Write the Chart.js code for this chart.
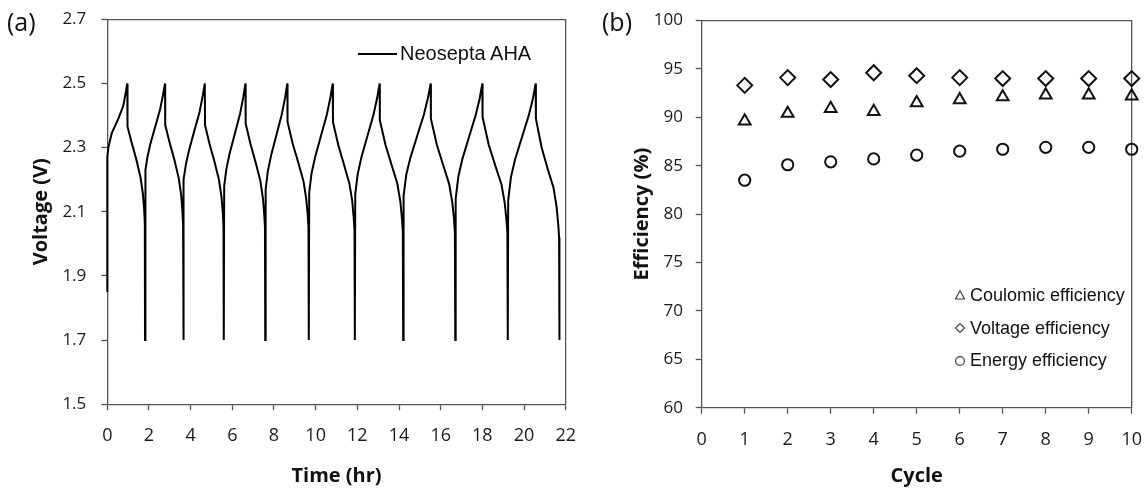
<!DOCTYPE html>
<html>
<head>
<meta charset="utf-8">
<script src="https://cdn.jsdelivr.net/npm/chart.js@4.4.1/dist/chart.umd.min.js"></script>
<style>
  html, body { margin: 0; padding: 0; background: #fff; }
  #wrap { position: relative; width: 1147px; height: 490px; background: #fff; overflow: hidden; }
  .pane { position: absolute; top: 0; height: 490px; }
  .lbl { position: absolute; white-space: nowrap; color: #111; }
  .panel { font-family: "Open Sans", sans-serif; font-size: 25px; line-height: 30px; }
  .leg { font-family: "Liberation Sans", Arial, sans-serif; color: #111; }
</style>
</head>
<body>
<div id="wrap">
  <div class="pane" style="left:0;width:580px;"><canvas id="c1"></canvas></div>
  <div class="pane" style="left:580px;width:567px;"><canvas id="c2"></canvas></div>
  <div class="lbl panel" style="left:7px;top:6px;">(a)</div>
  <div class="lbl panel" style="left:602px;top:6px;">(b)</div>
  <div id="legA"></div>
  <div id="legB"></div>
</div>
<script>
// ---------- Panel (a): charge/discharge voltage ----------
const timeHr = [
  0, 0, 0.05, 0.21, 0.53, 0.77, 0.96,
  0.97, 1.17, 1.385, 1.60, 1.71, 1.77, 1.80, 1.81,
  1.83, 1.924, 2.065, 2.30, 2.535, 2.676, 2.77,
  2.78, 2.99, 3.21, 3.43, 3.544, 3.606, 3.637, 3.65,
  3.67, 3.771, 3.923, 4.175, 4.428, 4.579, 4.68,
  4.69, 4.908, 5.135, 5.363, 5.481, 5.545, 5.576, 5.59,
  5.61, 5.712, 5.865, 6.12, 6.375, 6.528, 6.63,
  6.64, 6.868, 7.105, 7.343, 7.466, 7.533, 7.566, 7.58,
  7.60, 7.704, 7.86, 8.12, 8.38, 8.536, 8.64,
  8.65, 8.898, 9.155, 9.413, 9.546, 9.619, 9.655, 9.67,
  9.69, 9.803, 9.973, 10.255, 10.538, 10.707, 10.82,
  10.83, 11.085, 11.35, 11.615, 11.753, 11.827, 11.864, 11.88,
  11.90, 12.017, 12.193, 12.485, 12.778, 12.953, 13.07,
  13.08, 13.353, 13.635, 13.918, 14.064, 14.144, 14.183, 14.20,
  14.22, 14.35, 14.545, 14.87, 15.195, 15.39, 15.52,
  15.53, 15.815, 16.11, 16.405, 16.558, 16.641, 16.682, 16.70,
  16.72, 16.848, 17.04, 17.36, 17.68, 17.872, 18.0,
  18.01, 18.305, 18.61, 18.915, 19.074, 19.159, 19.202, 19.22,
  19.24, 19.372, 19.57, 19.9, 20.23, 20.428, 20.56,
  20.57, 20.845, 21.13, 21.415, 21.563, 21.643, 21.683, 21.70
];
const voltageV = [
  1.85, 2.27, 2.30, 2.344, 2.39, 2.43, 2.5,
  2.365, 2.315, 2.265, 2.205, 2.155, 2.105, 2.065, 1.7,
  2.23, 2.27, 2.311, 2.365, 2.419, 2.465, 2.5,
  2.37, 2.316, 2.264, 2.204, 2.153, 2.102, 2.062, 1.7,
  2.20, 2.247, 2.292, 2.352, 2.411, 2.461, 2.5,
  2.37, 2.311, 2.258, 2.198, 2.146, 2.094, 2.054, 1.7,
  2.18, 2.232, 2.28, 2.343, 2.406, 2.458, 2.5,
  2.375, 2.312, 2.257, 2.197, 2.143, 2.092, 2.052, 1.7,
  2.17, 2.226, 2.275, 2.34, 2.405, 2.457, 2.5,
  2.38, 2.312, 2.256, 2.196, 2.141, 2.089, 2.049, 1.7,
  2.16, 2.22, 2.27, 2.337, 2.403, 2.456, 2.5,
  2.38, 2.308, 2.249, 2.189, 2.134, 2.081, 2.041, 1.7,
  2.155, 2.217, 2.269, 2.336, 2.403, 2.455, 2.5,
  2.385, 2.308, 2.248, 2.188, 2.132, 2.078, 2.038, 1.7,
  2.15, 2.216, 2.268, 2.336, 2.403, 2.455, 2.5,
  2.39, 2.309, 2.247, 2.187, 2.129, 2.076, 2.036, 1.7,
  2.14, 2.21, 2.264, 2.333, 2.401, 2.453, 2.5,
  2.395, 2.309, 2.246, 2.186, 2.127, 2.073, 2.033, 1.7,
  2.135, 2.208, 2.263, 2.332, 2.401, 2.453, 2.5,
  2.39, 2.30, 2.235, 2.175, 2.115, 2.06, 2.02, 1.7
];
const seriesA = 'Neosepta AHA';
const timeTicks = [0, 2, 4, 6, 8, 10, 12, 14, 16, 18, 20, 22];
const voltTicks = [1.5, 1.7, 1.9, 2.1, 2.3, 2.5, 2.7];

// ---------- Panel (b): efficiencies ----------
const cycles = [1, 2, 3, 4, 5, 6, 7, 8, 9, 10];
const coulombicEff = [89.6, 90.4, 90.9, 90.6, 91.5, 91.8, 92.1, 92.3, 92.3, 92.2];
const voltageEff   = [93.3, 94.1, 93.9, 94.6, 94.3, 94.1, 94.0, 94.0, 94.0, 94.0];
const energyEff    = [83.5, 85.1, 85.4, 85.7, 86.1, 86.5, 86.7, 86.9, 86.9, 86.7];
const seriesB = ['Coulomic efficiency', 'Voltage efficiency', 'Energy efficiency'];
const cycleTicks = [0, 1, 2, 3, 4, 5, 6, 7, 8, 9, 10];
const effTicks = [60, 65, 70, 75, 80, 85, 90, 95, 100];

// ---------- shared styling ----------
const AXIS = '#555';
const YTICKFONT = { family: 'Open Sans', size: 17 };
const XTICKFONT = { family: 'Open Sans', size: 18 };
const TITLEFONT = { family: 'Open Sans', size: 20, weight: 'bold' };

function ticksFrom(arr) { return s => { s.ticks = arr.map(v => ({ value: v })); }; }
function noPad(s) { s.paddingLeft = 0; s.paddingRight = 0; s.paddingTop = 0; s.paddingBottom = 0; }
function frameAxis(pos, min, max) {
  return {
    type: 'linear', position: pos, min, max,
    ticks: { display: false },
    grid: { display: false, drawTicks: false },
    border: { display: true, color: AXIS, width: 1.3 },
    afterFit: s => { if (pos === 'top' || pos === 'bottom') s.height = 0; else s.width = 0; noPad(s); }
  };
}
function mainAxis(pos, min, max, tickArr, title, titlePad, size, lblPad, fmt) {
  const horiz = pos === 'bottom';
  return {
    type: 'linear', position: pos, min, max,
    afterBuildTicks: ticksFrom(tickArr),
    ticks: { font: horiz ? XTICKFONT : YTICKFONT, color: '#1a1a1a', padding: lblPad, autoSkip: false,
             maxRotation: 0, minRotation: 0, callback: v => fmt(v) },
    grid: { display: true, drawOnChartArea: false, drawTicks: true, tickLength: 6, tickColor: AXIS, tickWidth: 1.3 },
    border: { display: true, color: AXIS, width: 1.3 },
    title: { display: true, text: title, font: TITLEFONT, color: '#111', padding: titlePad },
    afterFit: s => { if (horiz) s.height = size; else s.width = size; noPad(s); }
  };
}

Chart.defaults.animation = false;

// Panel (a)
new Chart(document.getElementById('c1'), {
  type: 'scatter',
  data: {
    datasets: [{
      label: seriesA,
      data: timeHr.map((t, i) => ({ x: t, y: voltageV[i] })),
      showLine: true, borderColor: '#000', borderWidth: 2, pointRadius: 0, tension: 0, clip: false
    }]
  },
  options: {
    responsive: true, maintainAspectRatio: false, devicePixelRatio: 1,
    layout: { padding: { left: 0, right: 14.3, top: 19.2, bottom: 0 } },
    plugins: { legend: { display: false }, tooltip: { enabled: false } },
    scales: {
      x: mainAxis('bottom', 0, 22, timeTicks, 'Time (hr)', { top: 0, bottom: 1.5 }, 85.7, 15, v => String(v)),
      y: mainAxis('left', 1.5, 2.7, voltTicks, 'Voltage (V)', { top: 29, bottom: 0 }, 107.3, 15, v => v.toFixed(1)),
      xTop: frameAxis('top', 0, 22),
      yRight: frameAxis('right', 1.5, 2.7)
    }
  }
});

// Panel (b)
const markerStyles = ['triangle', 'rectRot', 'circle'];
const markerRadius = [6.8, 7.5, 5.6];
const effSeries = [coulombicEff, voltageEff, energyEff];
new Chart(document.getElementById('c2'), {
  type: 'scatter',
  data: {
    datasets: effSeries.map((vals, k) => ({
      label: seriesB[k],
      data: cycles.map((c, i) => ({ x: c, y: vals[i] })),
      pointStyle: markerStyles[k], pointRadius: markerRadius[k],
      pointBorderColor: '#111', pointBackgroundColor: 'rgba(255,255,255,0)', pointBorderWidth: 2,
      showLine: false, clip: false
    }))
  },
  options: {
    responsive: true, maintainAspectRatio: false, devicePixelRatio: 1,
    layout: { padding: { left: 0, right: 15.3, top: 20.5, bottom: 0 } },
    plugins: { legend: { display: false }, tooltip: { enabled: false } },
    scales: {
      x: mainAxis('bottom', 0, 10, cycleTicks, 'Cycle', { top: 0, bottom: 2 }, 82.3, 15, v => String(v)),
      y: mainAxis('left', 60, 100, effTicks, 'Efficiency (%)', { top: 50, bottom: 0 }, 121.7, 12.7, v => String(v)),
      xTop: frameAxis('top', 0, 10),
      yRight: frameAxis('right', 60, 100)
    }
  }
});

// ---------- legends (HTML text) ----------
(function () {
  const a = document.getElementById('legA');
  a.innerHTML =
    '<div style="position:absolute;left:358px;top:53px;width:39px;height:2px;background:#000"></div>' +
    '<div class="lbl leg" style="left:400px;top:41px;font-size:20px;line-height:25px;">' + seriesA + '</div>';
  const b = document.getElementById('legB');
  const rowsY = [295, 328.3, 360.7];
  const sym = [
    '<polygon points="5,0.8 9.6,9 0.4,9" fill="none" stroke="#444" stroke-width="1.2"/>',
    '<polygon points="5,0.6 9.4,5 5,9.4 0.6,5" fill="none" stroke="#444" stroke-width="1.2"/>',
    '<circle cx="5" cy="5" r="4.4" fill="none" stroke="#444" stroke-width="1.2"/>'
  ];
  let html = '';
  seriesB.forEach((name, k) => {
    html += '<svg style="position:absolute;left:955px;top:' + (rowsY[k] - 5) + 'px" width="10" height="10">' + sym[k] + '</svg>';
    html += '<div class="lbl leg" style="left:970px;top:' + (rowsY[k] - 11.5) + 'px;font-size:18px;line-height:23px;">' + name + '</div>';
  });
  b.innerHTML = html;
})();
</script>
</body>
</html>
